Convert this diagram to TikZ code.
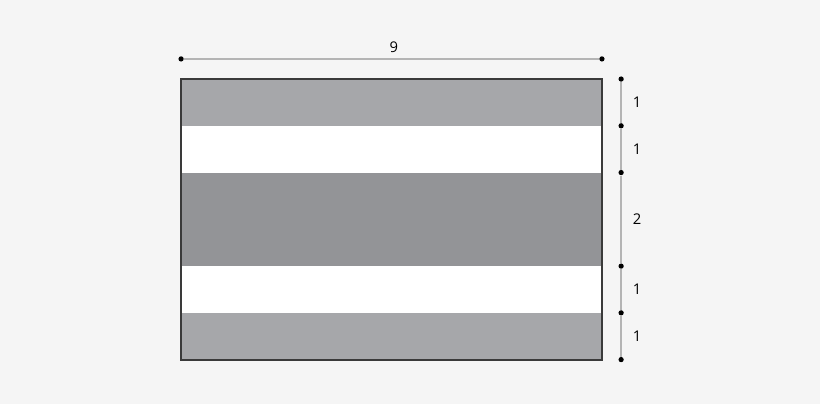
\documentclass[tikz,border=0pt]{standalone}
\usepackage{fontspec}
\setmainfont{Open Sans}
\usetikzlibrary{positioning}
\definecolor{bggray}{HTML}{F5F5F5}
\definecolor{outergray}{HTML}{A6A7AA}
\definecolor{midgray}{HTML}{939497}
\definecolor{framegray}{HTML}{3A3A3A}
\definecolor{dimgray}{HTML}{B4B4B4}
\tikzset{
        % Stripes of the flag
        stripe_outer/.style={fill=outergray, draw=none},
        stripe_white/.style={fill=white, draw=none},
        stripe_mid/.style={fill=midgray, draw=none},
        % Dimension lines
        dim_line/.style={dimgray, line width=0.8pt},
        dim_dot/.style={circle, fill=black, inner sep=0pt, minimum size=3.2pt},
        dim_label/.style={font=\small, inner sep=1pt}
}
\begin{document}
\begin{tikzpicture}
    \fill[bggray] (-3.872,-0.941) rectangle (13.663,7.69);
    \useasboundingbox (-3.872,-0.941) rectangle (13.663,7.69);
    % stripes
    \fill[stripe_outer] (0,0) rectangle (9,1);
    \fill[stripe_white] (0,1) rectangle (9,2);
    \fill[stripe_mid] (0,2) rectangle (9,4);
    \fill[stripe_white] (0,4) rectangle (9,5);
    \fill[stripe_outer] (0,5) rectangle (9,6);
    \draw[framegray, line width=1.1pt] (0,0) rectangle (9,6);
    % width
    \node[dim_dot] (w_left) at (0,6.43) {};
    \node[dim_dot] (w_right) at (9,6.43) {};
    \draw[dim_line] (w_left) -- (w_right);
    \node[dim_label] (w_label) at (4.55,6.68) {9};
    % heights
    \foreach \y/\n in {0/h0, 1/h1, 2/h2, 4/h4, 5/h5, 6/h6} {
        \node[dim_dot] (\n) at (9.41,\y) {};
    }
    \draw[dim_line] (h0) -- (h1) -- (h2) -- (h4) -- (h5) -- (h6);
    \foreach \y/\t in {0.5/1, 1.5/1, 3/2, 4.5/1, 5.5/1} {
        \node[dim_label] at (9.75,\y) {\t};
    }
\end{tikzpicture}
\end{document}
